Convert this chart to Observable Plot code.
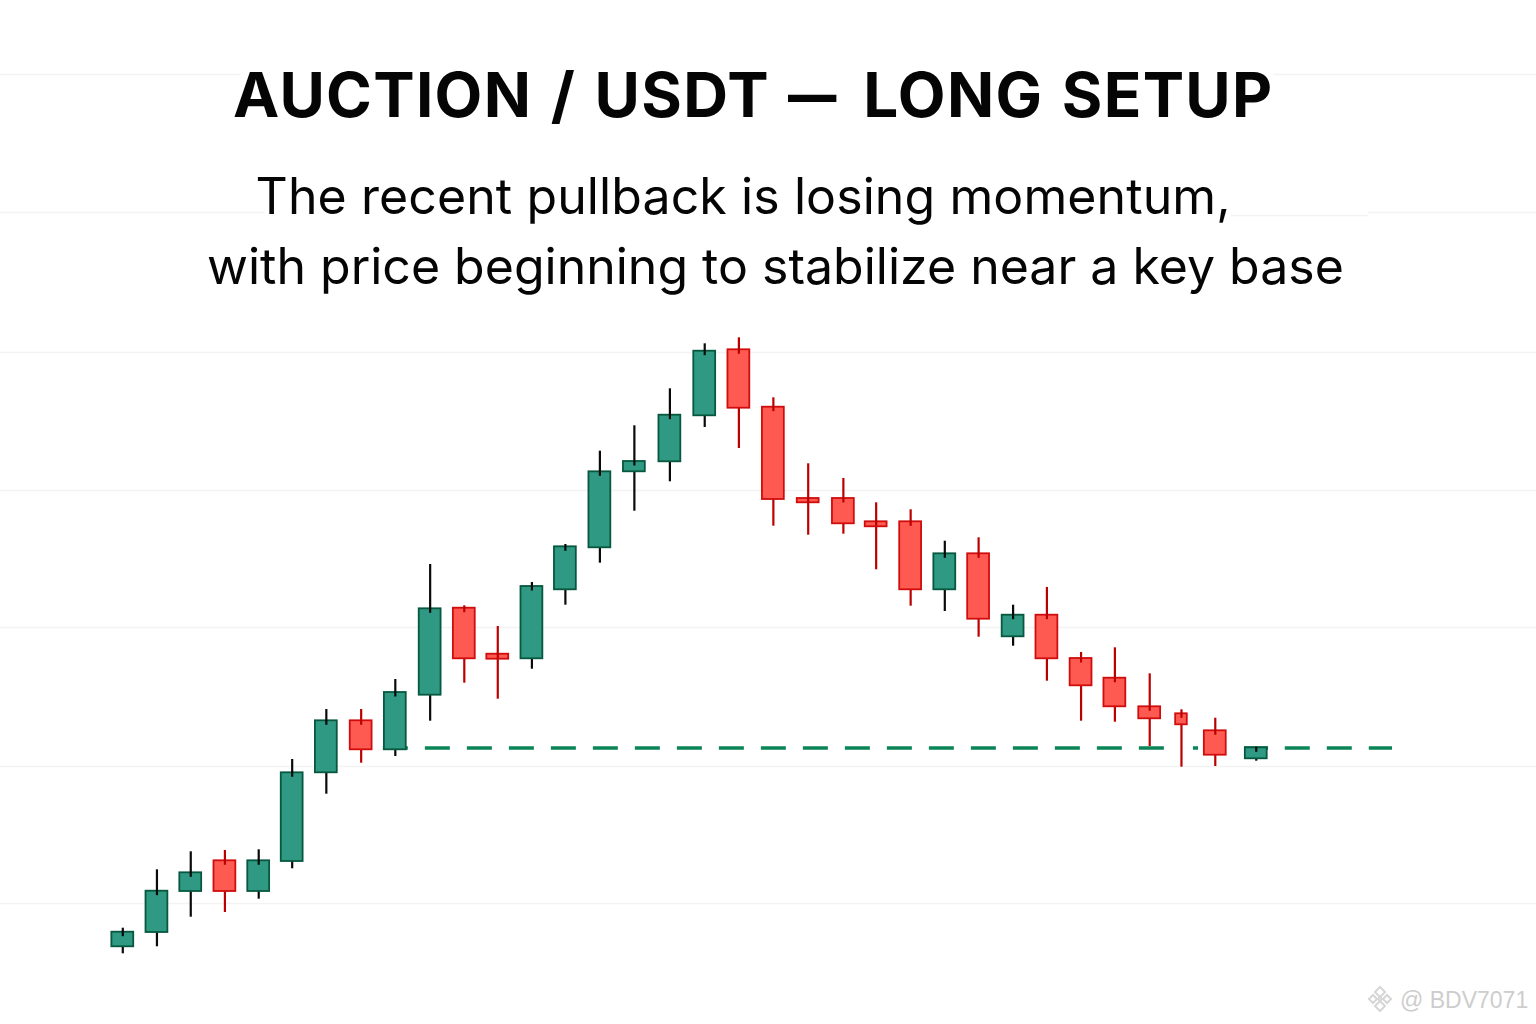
<!DOCTYPE html>
<html>
<head>
<meta charset="utf-8">
<script src="https://cdn.jsdelivr.net/npm/d3@7"></script>
<script src="https://cdn.jsdelivr.net/npm/@observablehq/plot@0.6"></script>
<style>
  html, body { margin: 0; padding: 0; background: #fff; }
  #stage { position: relative; width: 1536px; height: 1024px; overflow: hidden; font-family: Inter, sans-serif; }
  #stage svg.chart { position: absolute; left: 0; top: 0; }
  .hd { position: absolute; white-space: nowrap; color: #050505; }
  #title { left: 233px; top: 55px; font-size: 62px; font-weight: 700; letter-spacing: 1.3px; word-spacing: 2.5px; line-height: 80px; }
  #title .dash { display: inline-block; transform: scaleX(.78); margin-left: -7px; margin-right: 0; }
  #s1 { left: 255.5px; top: 160px; font-size: 50px; font-weight: 400; letter-spacing: .1px; line-height: 72px; }
  #s2 { left: 207px; top: 230px; font-size: 50px; font-weight: 400; line-height: 72px; }
  #mark { position: absolute; left: 1400px; top: 985px; font-size: 23px; color: #cdcdcd; letter-spacing: 0; line-height: 30px; font-family: "Liberation Sans", sans-serif; white-space: nowrap; }
  #badge { position: absolute; left: 1365px; top: 984px; }
</style>
</head>
<body>
<div id="stage">
  <div class="hd" id="title">AUCTION / USDT <span class="dash">—</span> LONG SETUP</div>
  <div class="hd" id="s1">The recent pullback is losing momentum,</div>
  <div class="hd" id="s2">with price beginning to stabilize near a key base</div>
  <svg id="badge" width="30" height="30" viewBox="0 0 30 30" fill="none" stroke="#d6d6d6" stroke-width="2">
    <path d="M15 3l5 5-5 5-5-5z"/><path d="M15 17l5 5-5 5-5-5z"/><path d="M4 15l4-4 4 4-4 4z"/><path d="M18 15l4-4 4 4-4 4z"/><path d="M13 15l2-2 2 2-2 2z"/>
  </svg>
  <div id="mark">@ BDV7071</div>
</div>
<script>
const session = [0,1,1.99,2.99,3.98,4.96,5.96,6.98,7.98,9,10,10.98,11.98,12.96,13.97,14.98,16.02,17.04,18.04,19.05,20.07,21.1,22.06,23.07,24.07,25.06,26.07,27.06,28.06,29.05,30.07,31,31.99,33.19];
const open  = [.777,.92,1.33,1.637,1.33,1.63,2.517,3.037,2.747,3.293,4.163,3.703,3.657,4.347,4.767,5.527,5.627,6.087,6.747,6.173,5.26,5.26,5.027,5.027,4.347,4.707,3.877,4.093,3.66,3.463,3.177,3.107,2.937,2.657];
const close = [.923,1.333,1.517,1.33,1.637,2.517,3.037,2.747,3.32,4.157,3.657,3.653,4.38,4.777,5.527,5.63,6.093,6.733,6.163,5.25,5.217,5.007,4.977,4.347,4.707,4.053,4.093,3.657,3.387,3.177,3.057,2.997,2.693,2.767];
const high  = [.963,1.547,1.727,1.74,1.747,2.65,3.15,3.15,3.45,4.6,4.187,3.98,4.42,4.8,5.733,5.987,6.357,6.807,6.867,6.267,5.607,5.46,5.217,5.147,4.833,4.867,4.193,4.37,3.72,3.767,3.507,3.147,3.063,2.773];
const low   = [.707,.777,1.073,1.12,1.253,1.557,2.303,2.613,2.68,3.033,3.413,3.253,3.553,4.193,4.613,5.133,5.427,5.97,5.76,4.983,4.893,4.903,4.547,4.183,4.13,3.873,3.783,3.433,3.033,3.023,2.78,2.573,2.58,2.633];
const gridLevels = [1.21,2.58,3.97,5.34,6.72];
const brokenGrid = [[9.5,-3.581,3.45],[9.5,33.7,41.396],[8.12,-3.581,4.18],[8.09,32.47,36.48],[8.12,36.48,41.396]];
const baseLevel = 2.765;
const baseSpans = [[7.63,30.58],[31.35,31.5],[32.85,33.55],[34.04,37.18]];

const candles = session.map((s,i)=>({s,i,open:open[i],close:close[i],high:high[i],low:low[i],
  top:Math.max(open[i],close[i]),bot:Math.min(open[i],close[i]),up:close[i]>open[i]}));
const halfWidth = d => d.i===31 ? .17 : .32;
const bodyFill = d => d.up ? "#2f9983" : "#ff5a52";
const bodyStroke = d => d.up ? "#07583f" : "#cf0d0d";
const wick = d => d.up ? "#0a0a0a" : "#bb0000";

const chart = Plot.plot({
  width:1536, height:1024, margin:0,
  x:{domain:[-3.581,41.396], range:[0,1536], axis:null},
  y:{domain:[0,10.24], range:[1024,0], axis:null},
  marks:[
    Plot.ruleY(gridLevels,{stroke:"#f3f3f3",strokeWidth:1.5}),
    Plot.ruleY(brokenGrid,{y:d=>d[0],x1:d=>d[1],x2:d=>d[2],stroke:"#f3f3f3",strokeWidth:1.5}),
    Plot.ruleY(baseSpans,{y:()=>baseLevel,x1:d=>d[0],x2:d=>d[1],stroke:"#0b8457",strokeWidth:3.5,strokeDasharray:"25 17"}),
    Plot.ruleX(candles,{x:"s",y1:"low",y2:"bot",stroke:wick,strokeWidth:2.2}),
    Plot.rect(candles,{x1:d=>d.s-halfWidth(d),x2:d=>d.s+halfWidth(d),y1:"bot",y2:"top",fill:bodyFill,stroke:bodyStroke,strokeWidth:1.8}),
    Plot.ruleX(candles,{x:"s",y1:"high",y2:d=>Math.max(d.top-.045,d.bot),stroke:wick,strokeWidth:2.2})
  ]
});
chart.setAttribute("class","chart");
const stage=document.getElementById("stage");
stage.insertBefore(chart,stage.firstChild);
</script>
</body>
</html>
